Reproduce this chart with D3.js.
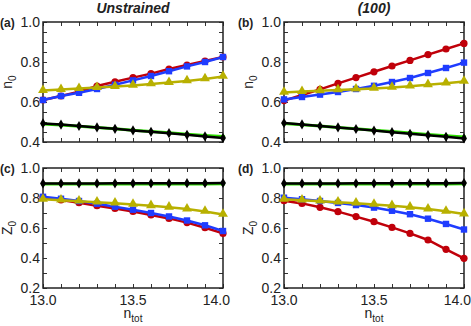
<!DOCTYPE html>
<html>
<head>
<meta charset="utf-8">
<script src="https://cdn.jsdelivr.net/npm/d3@7"></script>
<style>
body { margin: 0; background: #fff; }
text { font-family: "Liberation Sans", Arial, sans-serif; fill: #222; }
</style>
</head>
<body>
<script>
var width = 471, height = 326;

// x values shared by every panel
var ntot = [13.0, 13.1, 13.2, 13.3, 13.4, 13.5, 13.6, 13.7, 13.8, 13.9, 14.0];
var xTickLabels = [13.0, 13.5, 14.0];

// panel (a) n0, unstrained
var aRed    = [0.610, 0.630, 0.652, 0.680, 0.701, 0.722, 0.742, 0.765, 0.785, 0.805, 0.825];
var aBlue   = [0.610, 0.630, 0.646, 0.665, 0.686, 0.708, 0.730, 0.754, 0.778, 0.800, 0.825];
var aYellow = [0.657, 0.662, 0.667, 0.672, 0.677, 0.683, 0.690, 0.697, 0.705, 0.715, 0.728];
var aGreen  = [0.490, 0.485, 0.479, 0.472, 0.466, 0.459, 0.452, 0.446, 0.439, 0.433, 0.427];
var aBlack  = [0.493, 0.487, 0.480, 0.473, 0.466, 0.458, 0.451, 0.444, 0.436, 0.428, 0.420];

// panel (b) n0, (100)
var bRed    = [0.607, 0.635, 0.663, 0.693, 0.722, 0.751, 0.780, 0.808, 0.837, 0.865, 0.893];
var bBlue   = [0.613, 0.625, 0.637, 0.650, 0.665, 0.681, 0.700, 0.720, 0.745, 0.770, 0.797];
var bYellow = [0.648, 0.652, 0.656, 0.660, 0.664, 0.668, 0.673, 0.679, 0.686, 0.694, 0.703];
var bGreen  = [0.492, 0.486, 0.480, 0.473, 0.466, 0.459, 0.452, 0.445, 0.438, 0.431, 0.425];
var bBlack  = [0.495, 0.488, 0.480, 0.473, 0.465, 0.457, 0.449, 0.441, 0.434, 0.426, 0.418];

// panel (c) Z0, unstrained
var cRed    = [0.804, 0.787, 0.769, 0.749, 0.730, 0.710, 0.687, 0.664, 0.636, 0.602, 0.564];
var cBlue   = [0.808, 0.795, 0.780, 0.762, 0.742, 0.722, 0.700, 0.677, 0.650, 0.618, 0.580];
var cYellow = [0.791, 0.785, 0.779, 0.772, 0.765, 0.757, 0.748, 0.738, 0.726, 0.710, 0.690];
var cGreen  = [0.894, 0.894, 0.894, 0.894, 0.894, 0.894, 0.894, 0.894, 0.894, 0.894, 0.895];
var cBlack  = [0.897, 0.897, 0.897, 0.897, 0.898, 0.898, 0.898, 0.898, 0.899, 0.899, 0.900];

// panel (d) Z0, (100)
var dRed    = [0.782, 0.764, 0.738, 0.709, 0.676, 0.642, 0.604, 0.564, 0.520, 0.458, 0.398];
var dBlue   = [0.802, 0.792, 0.780, 0.767, 0.753, 0.736, 0.715, 0.692, 0.662, 0.627, 0.590];
var dYellow = [0.791, 0.785, 0.779, 0.772, 0.765, 0.757, 0.748, 0.738, 0.726, 0.711, 0.693];
var dGreen  = [0.894, 0.894, 0.894, 0.894, 0.894, 0.894, 0.894, 0.894, 0.894, 0.894, 0.895];
var dBlack  = [0.897, 0.897, 0.897, 0.897, 0.898, 0.898, 0.898, 0.898, 0.899, 0.899, 0.900];

var nTicks = [0.4, 0.6, 0.8, 1.0];
var zTicks = [0.2, 0.4, 0.6, 0.8, 1.0];

var colors = {red: "#c0000a", blue: "#1f3cff", yellow: "#b8b000", green: "#2ee000", black: "#000"};

var svg = d3.select("body").append("svg").attr("width", width).attr("height", height);

var panels = [
  {x0: 43, x1: 223, y0: 22, y1: 142, dom: [0.4, 1.0], minor: 0.05, ticks: nTicks, label: "(a)", yl: "n", sub: "0",
   series: [aRed, aBlue, aYellow, aGreen, aBlack], title: "Unstrained", xlab: false},
  {x0: 284, x1: 464, y0: 22, y1: 142, dom: [0.4, 1.0], minor: 0.05, ticks: nTicks, label: "(b)", yl: "n", sub: "0",
   series: [bRed, bBlue, bYellow, bGreen, bBlack], title: "(100)", xlab: false},
  {x0: 43, x1: 223, y0: 168, y1: 288, dom: [0.2, 1.0], minor: 0.1, ticks: zTicks, label: "(c)", yl: "Z", sub: "0",
   series: [cRed, cBlue, cYellow, cGreen, cBlack], title: null, xlab: true},
  {x0: 284, x1: 464, y0: 168, y1: 288, dom: [0.2, 1.0], minor: 0.1, ticks: zTicks, label: "(d)", yl: "Z", sub: "0",
   series: [dRed, dBlue, dYellow, dGreen, dBlack], title: null, xlab: true}
];

var kinds = ["red", "blue", "yellow", "green", "black"];

panels.forEach(function(p) {
  var x = d3.scaleLinear().domain([13.0, 14.0]).range([p.x0, p.x1]);
  var y = d3.scaleLinear().domain(p.dom).range([p.y1, p.y0]);
  var g = svg.append("g");

  // minor ticks, all four sides, pointing inward
  var xMinor = d3.range(0, 11).map(function(i) { return 13.0 + i * 0.1; });
  var nY = Math.round((p.dom[1] - p.dom[0]) / p.minor);
  var yMinor = d3.range(0, nY + 1).map(function(i) { return p.dom[0] + i * p.minor; });

  g.append("g").attr("transform", "translate(0," + p.y1 + ")")
    .call(d3.axisTop(x).tickValues(xMinor).tickSize(4).tickFormat(""));
  g.append("g").attr("transform", "translate(0," + p.y0 + ")")
    .call(d3.axisBottom(x).tickValues(xMinor).tickSize(4).tickFormat(""));
  g.append("g").attr("transform", "translate(" + p.x0 + ",0)")
    .call(d3.axisRight(y).tickValues(yMinor).tickSize(4).tickFormat(""));
  g.append("g").attr("transform", "translate(" + p.x1 + ",0)")
    .call(d3.axisLeft(y).tickValues(yMinor).tickSize(4).tickFormat(""));
  g.selectAll(".domain").remove();
  g.selectAll(".tick line").attr("stroke", "#333").attr("stroke-width", 1);

  // frame
  g.append("rect").attr("x", p.x0).attr("y", p.y0)
    .attr("width", p.x1 - p.x0).attr("height", p.y1 - p.y0)
    .attr("fill", "none").attr("stroke", "#222").attr("stroke-width", 1.5);

  // y tick labels
  g.selectAll(".ylab").data(p.ticks).enter().append("text")
    .attr("x", p.x0 - 3).attr("y", function(d) { return y(d); })
    .attr("dy", "0.36em").attr("text-anchor", "end").attr("font-size", 14)
    .text(function(d) { return d3.format(".1f")(d); });

  // panel letter
  g.append("text").attr("x", p.x0 - 43 + (p.x0 > 100 ? -3 : 0)).attr("y", p.y0 + 5)
    .attr("font-size", 12).attr("font-weight", "bold").text(p.label);

  // y axis label
  var yt = g.append("text")
    .attr("transform", "translate(" + (p.x0 - 31) + "," + ((p.y0 + p.y1) / 2) + ") rotate(-90)")
    .attr("text-anchor", "middle").attr("font-size", 14);
  yt.append("tspan").text(p.yl);
  yt.append("tspan").attr("dy", 4).attr("font-size", 10).text(p.sub);

  if (p.title) {
    g.append("text").attr("x", (p.x0 + p.x1) / 2).attr("y", 13)
      .attr("text-anchor", "middle").attr("font-size", 14)
      .attr("font-weight", "bold").attr("font-style", "italic").text(p.title);
  }
  if (p.xlab) {
    // x tick labels, last one pulled in from the edge
    g.selectAll(".xlab").data(xTickLabels).enter().append("text")
      .attr("x", function(d, i) { return i === xTickLabels.length - 1 ? x(d) + 7 : x(d); })
      .attr("y", p.y1 + 17)
      .attr("text-anchor", function(d, i) { return i === xTickLabels.length - 1 ? "end" : "middle"; })
      .attr("font-size", 14)
      .text(function(d) { return d3.format(".1f")(d); });

    var xt = g.append("text").attr("x", (p.x0 + p.x1) / 2).attr("y", 318)
      .attr("text-anchor", "middle").attr("font-size", 14);
    xt.append("tspan").text("n");
    xt.append("tspan").attr("dy", 4).attr("font-size", 10).text("tot");
  }

  var line = d3.line().x(function(d, i) { return x(ntot[i]); }).y(function(d) { return y(d); });

  p.series.forEach(function(vals, k) {
    var kind = kinds[k];
    var c = colors[kind];
    g.append("path").datum(vals).attr("d", line).attr("fill", "none")
      .attr("stroke", c).attr("stroke-width", kind === "green" ? 3 : 2.5);
    var m = g.selectAll(".m" + kind).data(vals).enter();
    if (kind === "red") {
      m.append("circle").attr("cx", function(d, i) { return x(ntot[i]); })
        .attr("cy", function(d) { return y(d); }).attr("r", 3.6).attr("fill", c);
    } else if (kind === "blue") {
      m.append("rect").attr("x", function(d, i) { return x(ntot[i]) - 3.2; })
        .attr("y", function(d) { return y(d) - 3.2; }).attr("width", 6.4).attr("height", 6.4).attr("fill", c);
    } else if (kind === "yellow") {
      m.append("path").attr("d", d3.symbol().type(d3.symbolTriangle).size(42))
        .attr("transform", function(d, i) { return "translate(" + x(ntot[i]) + "," + (y(d) - 0.5) + ")"; })
        .attr("fill", c);
    } else if (kind === "green") {
      m.append("circle").attr("cx", function(d, i) { return x(ntot[i]); })
        .attr("cy", function(d) { return y(d); }).attr("r", 2.2).attr("fill", c);
    } else {
      m.append("path").attr("d", d3.symbol().type(d3.symbolDiamond).size(30))
        .attr("transform", function(d, i) { return "translate(" + x(ntot[i]) + "," + y(d) + ")"; })
        .attr("fill", c);
    }
  });
});
</script>
</body>
</html>
